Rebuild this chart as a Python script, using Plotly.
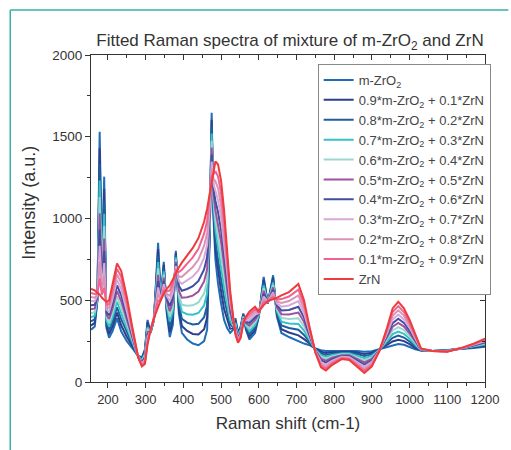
import plotly.graph_objects as go

# Raman shift grid (cm-1)
shift = [155, 165, 172, 178, 184, 190, 196, 203, 212, 224, 235, 250, 265, 280, 290, 298, 305, 313, 322, 333,
         340, 348, 356, 364, 372, 380, 388, 396, 410, 425, 440, 455, 463, 470, 475, 480, 485, 492, 500, 508,
         516, 524, 532, 538, 545, 552, 559, 566, 575, 590, 600, 613, 624, 638, 648, 660, 680, 705, 720, 735,
         750, 765, 778, 795, 820, 840, 860, 880, 900, 920, 940, 955, 970, 985, 1000, 1015, 1030, 1060, 1100, 1140,
         1170, 1200]

m_zro2 = [320, 340, 500, 1530, 700, 1256, 330, 270, 310, 390, 310, 250, 205, 160, 150, 200, 380, 300, 380, 852,
          500, 735, 420, 275, 350, 802, 420, 300, 260, 235, 225, 250, 320, 900, 1647, 1000, 750, 600, 480, 380,
          330, 300, 320, 390, 300, 340, 420, 320, 260, 300, 400, 643, 480, 653, 400, 300, 275, 250, 235, 225,
          205, 195, 190, 190, 188, 190, 190, 185, 188, 200, 215, 225, 232, 228, 215, 200, 192, 190, 195, 205,
          208, 215]

mix_09 = [345, 362, 505, 1430, 682, 1180, 346, 293, 338, 424, 347, 277, 218, 159, 145, 191, 365, 302, 381, 813,
          500, 716, 435, 307, 378, 789, 448, 343, 312, 294, 291, 323, 394, 925, 1604, 1030, 810, 673, 555, 447,
          379, 326, 328, 380, 294, 333, 414, 328, 277, 316, 403, 626, 482, 638, 412, 323, 303, 285, 262, 236,
          203, 185, 178, 182, 183, 185, 181, 172, 179, 199, 227, 248, 258, 250, 232, 209, 193, 190, 194, 205,
          211, 220]

mix_08 = [370, 384, 509, 1331, 663, 1105, 362, 316, 366, 457, 384, 304, 230, 158, 139, 182, 350, 304, 382, 774,
          500, 696, 450, 338, 406, 776, 476, 386, 363, 352, 356, 396, 468, 950, 1562, 1060, 870, 746, 630, 514,
          428, 352, 336, 370, 288, 326, 408, 336, 294, 332, 406, 608, 483, 623, 423, 346, 330, 320, 288, 246,
          200, 174, 166, 173, 178, 179, 171, 159, 169, 198, 238, 270, 284, 272, 248, 218, 195, 190, 193, 206,
          213, 225]

mix_07 = [395, 406, 514, 1232, 645, 1029, 378, 339, 394, 491, 421, 331, 243, 157, 134, 173, 335, 306, 383, 734,
          500, 677, 465, 370, 434, 762, 504, 429, 415, 411, 422, 469, 542, 975, 1519, 1090, 930, 819, 705, 581,
          477, 378, 344, 360, 282, 319, 402, 344, 311, 348, 409, 591, 485, 609, 435, 369, 358, 355, 315, 257,
          198, 164, 154, 165, 174, 174, 162, 146, 160, 197, 250, 293, 309, 295, 265, 227, 196, 190, 192, 206,
          216, 230]

mix_06 = [420, 428, 518, 1132, 626, 954, 394, 362, 422, 524, 458, 358, 255, 156, 128, 164, 320, 308, 384, 695,
          500, 657, 480, 401, 462, 749, 532, 472, 466, 469, 487, 542, 616, 1000, 1476, 1120, 990, 892, 780, 648,
          526, 404, 352, 350, 276, 312, 396, 352, 328, 364, 412, 574, 486, 594, 446, 392, 385, 390, 341, 267,
          195, 153, 142, 156, 169, 168, 152, 133, 151, 196, 261, 315, 335, 317, 281, 236, 197, 190, 191, 207,
          219, 235]

mix_05 = [445, 450, 522, 1032, 608, 878, 410, 385, 450, 558, 495, 385, 268, 155, 123, 155, 305, 310, 385, 656,
          500, 638, 495, 433, 490, 736, 560, 515, 518, 528, 553, 615, 690, 1025, 1434, 1150, 1050, 965, 855, 715,
          575, 430, 360, 340, 270, 305, 390, 360, 345, 380, 415, 557, 488, 579, 458, 415, 413, 425, 368, 278,
          193, 143, 130, 148, 164, 163, 143, 120, 142, 195, 273, 338, 361, 339, 298, 245, 199, 190, 190, 207,
          222, 240]

mix_04 = [470, 472, 527, 933, 589, 802, 426, 408, 478, 591, 532, 412, 280, 154, 117, 146, 290, 312, 386, 617,
          500, 618, 510, 464, 518, 723, 588, 558, 569, 586, 618, 688, 764, 1050, 1391, 1180, 1109, 1038, 930, 782,
          624, 456, 368, 330, 264, 298, 384, 368, 362, 396, 418, 539, 489, 564, 469, 438, 440, 460, 394, 288,
          190, 132, 118, 139, 159, 157, 133, 107, 132, 194, 284, 360, 387, 361, 314, 254, 200, 190, 189, 208,
          224, 245]

mix_03 = [495, 494, 532, 833, 570, 727, 442, 431, 506, 625, 569, 439, 293, 153, 112, 137, 275, 314, 387, 578,
          500, 599, 525, 496, 546, 710, 616, 601, 621, 645, 684, 761, 838, 1075, 1348, 1210, 1169, 1111, 1005, 849,
          673, 482, 376, 320, 258, 291, 378, 376, 379, 412, 421, 522, 491, 549, 481, 461, 468, 495, 421, 299,
          188, 122, 106, 131, 154, 152, 124, 94, 123, 193, 296, 383, 413, 383, 331, 263, 201, 190, 188, 208,
          227, 250]

mix_02 = [520, 516, 536, 734, 552, 651, 458, 454, 534, 658, 606, 466, 305, 152, 106, 128, 260, 316, 388, 538,
          500, 579, 540, 527, 574, 696, 644, 644, 672, 703, 749, 834, 912, 1100, 1305, 1240, 1229, 1184, 1080, 916,
          722, 508, 384, 310, 252, 284, 372, 384, 396, 428, 424, 505, 492, 535, 492, 484, 495, 530, 447, 309,
          185, 111, 94, 122, 150, 146, 114, 81, 114, 192, 307, 405, 438, 406, 347, 272, 202, 190, 187, 209,
          230, 255]

mix_01 = [545, 538, 540, 634, 534, 576, 474, 477, 562, 692, 643, 493, 318, 151, 101, 119, 245, 318, 389, 499,
          500, 560, 555, 559, 602, 683, 672, 687, 724, 762, 815, 907, 986, 1125, 1263, 1270, 1289, 1257, 1155, 983,
          771, 534, 392, 300, 246, 277, 366, 392, 413, 444, 427, 487, 494, 520, 504, 507, 523, 565, 474, 320,
          183, 101, 82, 114, 145, 141, 105, 68, 104, 191, 319, 428, 464, 428, 364, 281, 204, 190, 186, 209,
          232, 260]

zrn = [570, 560, 545, 535, 515, 500, 490, 500, 590, 725, 680, 520, 330, 150, 95, 110, 230, 320, 390, 460,
       500, 540, 570, 590, 630, 670, 700, 730, 775, 820, 880, 980, 1060, 1150, 1220, 1300, 1349, 1330, 1230, 1050,
       820, 560, 400, 290, 240, 270, 360, 400, 430, 460, 430, 470, 495, 505, 515, 530, 550, 600, 500, 330,
       180, 90, 70, 105, 140, 135, 95, 55, 95, 190, 330, 450, 490, 450, 380, 290, 205, 190, 185, 210,
       235, 265]

series_names = [
    "m-ZrO<sub>2</sub>",
    "0.9*m-ZrO<sub>2</sub> + 0.1*ZrN",
    "0.8*m-ZrO<sub>2</sub> + 0.2*ZrN",
    "0.7*m-ZrO<sub>2</sub> + 0.3*ZrN",
    "0.6*m-ZrO<sub>2</sub> + 0.4*ZrN",
    "0.5*m-ZrO<sub>2</sub> + 0.5*ZrN",
    "0.4*m-ZrO<sub>2</sub> + 0.6*ZrN",
    "0.3*m-ZrO<sub>2</sub> + 0.7*ZrN",
    "0.2*m-ZrO<sub>2</sub> + 0.8*ZrN",
    "0.1*m-ZrO<sub>2</sub> + 0.9*ZrN",
    "ZrN",
]
series_values = [m_zro2, mix_09, mix_08, mix_07, mix_06, mix_05, mix_04, mix_03, mix_02, mix_01, zrn]
series_colors = ["#1f6db5", "#2c3e8c", "#1d5e9e", "#35c2c4", "#9ad8cf", "#a0509e",
                 "#3f4ea0", "#d8a8d8", "#d994b4", "#f06292", "#ee3b3b"]

x_ticks = [200, 300, 400, 500, 600, 700, 800, 900, 1000, 1100, 1200]
y_ticks = [0, 500, 1000, 1500, 2000]

FONT = "Liberation Sans, Arial, sans-serif"
AX = "#333333"

fig = go.Figure()
for name, vals, col in zip(series_names, series_values, series_colors):
    fig.add_trace(go.Scatter(x=shift, y=vals, mode="lines", name=name,
                             line=dict(color=col, width=2)))

# dummy trace to activate mirrored axes with inward ticks
fig.add_trace(go.Scatter(x=[shift[0]], y=[0], xaxis="x2", yaxis="y2", mode="markers",
                         marker=dict(opacity=0), showlegend=False, hoverinfo="skip"))

common_axis = dict(showgrid=False, zeroline=False, showline=True, linecolor=AX, linewidth=1,
                   tickcolor=AX, tickwidth=1, ticklen=5)

fig.update_layout(
    width=511, height=450,
    margin=dict(l=91, r=15, t=55, b=68),
    paper_bgcolor="white", plot_bgcolor="white",
    font=dict(family=FONT, color=AX, size=13),
    title=dict(text="Fitted Raman spectra of mixture of m-ZrO<sub>2</sub> and ZrN",
               x=290 / 511, xref="container", xanchor="center",
               y=1 - 40 / 450, yref="container", yanchor="middle",
               font=dict(size=17, color=AX)),
    xaxis=dict(range=[155, 1200], tickvals=x_ticks, ticks="outside",
               minor=dict(dtick=50, tick0=0, ticks="outside", ticklen=3, tickcolor=AX),
               title=dict(text="Raman shift (cm-1)", font=dict(size=17), standoff=11),
               tickfont=dict(size=13), **common_axis),
    yaxis=dict(range=[0, 2000], tickvals=y_ticks, ticks="outside",
               minor=dict(dtick=250, tick0=0, ticks="outside", ticklen=3, tickcolor=AX),
               tickfont=dict(size=13.5), **common_axis),
    xaxis2=dict(range=[155, 1200], overlaying="x", side="top", tickvals=x_ticks, ticks="inside",
                showticklabels=False,
                minor=dict(dtick=50, tick0=0, ticks="inside", ticklen=3, tickcolor=AX),
                **common_axis),
    yaxis2=dict(range=[0, 2000], overlaying="y", side="right", tickvals=y_ticks, ticks="inside",
                showticklabels=False,
                minor=dict(dtick=250, tick0=0, ticks="inside", ticklen=3, tickcolor=AX),
                **common_axis),
    legend=dict(x=(324 - 91) / 405, y=(382 - 64) / 327, xanchor="left", yanchor="top",
                bgcolor="white", bordercolor="#888888", borderwidth=1,
                font=dict(size=13, color="#444444"), tracegroupgap=0),
    showlegend=True,
    annotations=[
        dict(text="Intensity (a.u.)", textangle=-90, xref="paper", yref="paper",
             x=(27 - 91) / 405, y=(382 - 203) / 327, xanchor="center", yanchor="middle",
             showarrow=False, font=dict(size=18, color=AX)),
    ],
    shapes=[
        dict(type="line", xref="paper", yref="paper", x0=(8 - 91) / 405, x1=(520 - 91) / 405,
             y0=(382 - 10) / 327, y1=(382 - 10) / 327, line=dict(color="#3ab0a4", width=1.5)),
        dict(type="line", xref="paper", yref="paper", x0=(8 - 91) / 405, x1=(8 - 91) / 405,
             y0=(382 - 10) / 327, y1=(382 - 460) / 327, line=dict(color="#3ab0a4", width=1.5)),
    ],
)

fig.write_html("out.html")
